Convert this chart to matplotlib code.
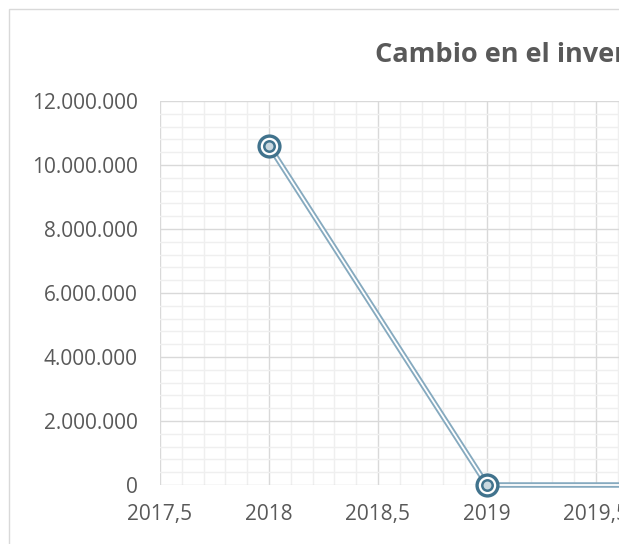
import matplotlib
matplotlib.use("Agg")
import matplotlib.pyplot as plt
from matplotlib.ticker import MultipleLocator, FuncFormatter
from matplotlib.patches import Rectangle

years = [2018, 2019, 2020]
values = [10600000, 0, 0]
title = "Cambio en el inventario"

W, H = 629, 544
fig = plt.figure(figsize=(W / 100, H / 100), dpi=100)
fig.patch.set_facecolor("white")

# chart border (cropped on right/bottom)
fig.patches.append(Rectangle((9 / W, -0.1), 1.2, (H - 9) / H + 0.1, transform=fig.transFigure,
                             fill=False, edgecolor="#D9D9D9", linewidth=1.0))

left_px, right_px, top_px, bot_px = 160, 629, 101, 485
ax = fig.add_axes([left_px / W, (H - bot_px) / H, (right_px - left_px) / W, (bot_px - top_px) / H])
px_per_unit = (487 - 160) / 1.5
ax.set_xlim(2017.5, 2017.5 + (right_px - left_px) / px_per_unit)
ax.set_ylim(0, 12000000)

ax.xaxis.set_major_locator(MultipleLocator(0.5))
ax.xaxis.set_minor_locator(MultipleLocator(0.1))
ax.yaxis.set_major_locator(MultipleLocator(2000000))
ax.yaxis.set_minor_locator(MultipleLocator(400000))

def yfmt(v, p):
    return f"{int(round(v)):,}".replace(",", ".")

def xfmt(v, p):
    s = f"{v:g}"
    return s.replace(".", ",")

ax.yaxis.set_major_formatter(FuncFormatter(yfmt))
ax.xaxis.set_major_formatter(FuncFormatter(xfmt))

ax.grid(which="major", color="#D9D9D9", linewidth=1.0)
ax.grid(which="minor", color="#EFEFEF", linewidth=1.0)
ax.set_axisbelow(True)
for s in ax.spines.values():
    s.set_visible(False)
ax.tick_params(which="both", length=0)
ax.tick_params(axis="y", pad=16, labelsize=15, labelcolor="#595959")
ax.tick_params(axis="x", pad=14, labelsize=15, labelcolor="#595959")
for lab in ax.get_xticklabels() + ax.get_yticklabels():
    lab.set_fontfamily("Open Sans")

# double line
ax.plot(years, values, color="#86AABF", linewidth=4.0, clip_on=False, zorder=3, solid_capstyle="butt")
ax.plot(years, values, color="white", linewidth=1.3, clip_on=False, zorder=4, solid_capstyle="butt")
# target markers
ax.plot(years, values, linestyle="none", marker="o", markersize=15, markerfacecolor="white",
        markeredgecolor="#41738D", markeredgewidth=2.4, clip_on=False, zorder=5)
ax.plot(years, values, linestyle="none", marker="o", markersize=7.5, markerfacecolor="#C9D8E0",
        markeredgecolor="#41738D", markeredgewidth=1.8, clip_on=False, zorder=6)

fig.text(375 / W, 1 - 62 / H, title, fontsize=19.5, fontweight="bold", color="#595959",
         family="Open Sans", ha="left", va="baseline")

# the reference view is cropped at x ~ 619
fig.add_artist(Rectangle((619 / W, 0), 1, 1, transform=fig.transFigure,
                         facecolor="white", edgecolor="none", zorder=100))

fig.savefig("out.png", dpi=100, facecolor="white")
